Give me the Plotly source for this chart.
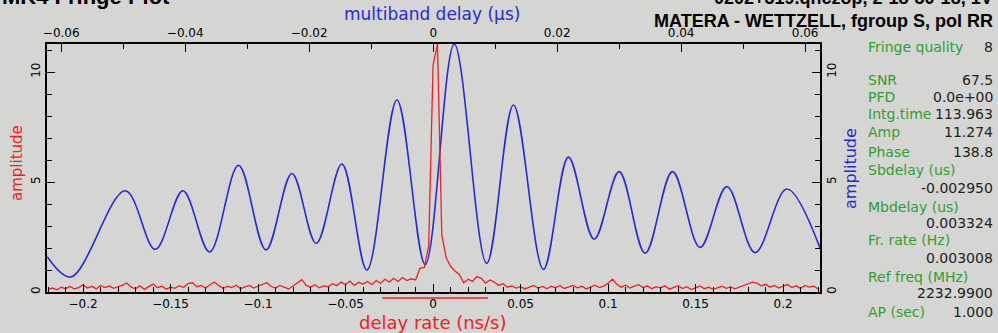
import numpy as np
import plotly.graph_objects as go

# ---------------- data ----------------
# multiband delay function (blue): delay in microseconds, amplitude
mbd_delay = [-0.06226, -0.05844, -0.04968, -0.04484, -0.04037, -0.03608, -0.03140,
             -0.02698, -0.02279, -0.01887, -0.01473, -0.01069, -0.00585, -0.00129,
             0.00340, 0.00863, 0.01295, 0.01779, 0.02182, 0.02597, 0.03000,
             0.03419, 0.03860, 0.04306, 0.04737, 0.05194, 0.05705, 0.06242]
mbd_amp = [1.60, 0.68, 4.60, 1.94, 4.60, 1.82, 5.76,
           1.91, 5.39, 2.21, 5.82, 1.00, 8.73, 1.25,
           11.27, 1.30, 8.50, 1.03, 6.13, 2.40, 5.47,
           1.76, 5.47, 2.03, 4.79, 1.79, 4.68, 1.98]

# delay-rate function (red): regular grid in ns/s
rate_start = -0.22
rate_step = 0.0025
dr_amp = [0.12, 0.18, 0.10, 0.22, 0.15, 0.25, 0.14, 0.20, 0.33, 0.18,
          0.26, 0.14, 0.30, 0.20, 0.27, 0.17, 0.25, 0.30, 0.41, 0.22,
          0.15, 0.28, 0.12, 0.24, 0.36, 0.20, 0.26, 0.13, 0.22, 0.17,
          0.29, 0.20, 0.38, 0.42, 0.24, 0.30, 0.18, 0.33, 0.45, 0.30,
          0.16, 0.26, 0.20, 0.31, 0.15, 0.23, 0.30, 0.18, 0.27, 0.34,
          0.42, 0.25, 0.18, 0.30, 0.21, 0.14, 0.27, 0.40, 0.56, 0.30,
          0.22, 0.33, 0.19, 0.28, 0.24, 0.38, 0.29, 0.45, 0.34, 0.50,
          0.30, 0.44, 0.36, 0.48, 0.33, 0.52, 0.40, 0.58, 0.45, 0.62,
          0.48, 0.66, 0.52, 0.60, 0.55, 1.08, 1.12, 2.10, 10.30, 11.27,
          2.60, 1.55, 1.17, 0.95, 0.80, 0.42, 0.58, 0.48, 0.70, 0.62,
          0.40, 0.55, 0.45, 0.30, 0.38, 0.22, 0.28, 0.18, 0.24, 0.14,
          0.22, 0.30, 0.18, 0.25, 0.15, 0.26, 0.20, 0.29, 0.16, 0.23,
          0.30, 0.19, 0.26, 0.14, 0.22, 0.31, 0.20, 0.27, 0.40, 0.58,
          0.35, 0.22, 0.31, 0.18, 0.27, 0.33, 0.20, 0.28, 0.15, 0.24,
          0.19, 0.28, 0.13, 0.21, 0.29, 0.16, 0.24, 0.11, 0.20, 0.27,
          0.15, 0.22, 0.12, 0.19, 0.26, 0.17, 0.23, 0.14, 0.21, 0.30,
          0.38, 0.45, 0.40, 0.28, 0.35, 0.22, 0.30, 0.18, 0.27, 0.34,
          0.20, 0.28, 0.16, 0.30, 0.22, 0.27, 0.14]
dr_rate = [round(rate_start + rate_step * i, 5) for i in range(len(dr_amp))]

# search window on the delay-rate axis (ns/s)
rate_window = [-0.0291, 0.0314]

# axis ranges / ticks
rate_range = [-0.2206, 0.2211]
mbd_range = [-0.0623, 0.0624]
amp_range = [0, 11.274]
rate_ticks = [-0.2, -0.15, -0.1, -0.05, 0, 0.05, 0.1, 0.15, 0.2]
rate_ticktext = ["\u22120.2", "\u22120.15", "\u22120.1", "\u22120.05", "0", "0.05", "0.1", "0.15", "0.2"]
mbd_ticks = [-0.06, -0.04, -0.02, 0, 0.02, 0.04, 0.06]
mbd_ticktext = ["\u22120.06", "\u22120.04", "\u22120.02", "0", "0.02", "0.04", "0.06"]
amp_ticks = [0, 5, 10]

# info panel
panel_rows = [
    ("Fringe quality", "8"),
    ("SNR", "67.5"),
    ("PFD", "0.0e+00"),
    ("Intg.time", "113.963"),
    ("Amp", "11.274"),
    ("Phase", "138.8"),
    ("Sbdelay (us)", ""),
    ("", "-0.002950"),
    ("Mbdelay (us)", ""),
    ("", "0.003324"),
    ("Fr. rate (Hz)", ""),
    ("", "0.003008"),
    ("Ref freq (MHz)", ""),
    ("", "2232.9900"),
    ("AP (sec)", "1.000"),
]
panel_row_y = [47, 80, 97, 114, 132, 152, 170, 188, 207, 223, 240, 258, 277, 293, 312]

title_left = "MK4 Fringe Plot"
title_right1 = "0202+319.qnczop, 2-18-30-18, 1V"
title_right2 = "MATERA - WETTZELL, fgroup S, pol RR"

# ---------------- layout helpers ----------------
W, H = 998, 333
L, R, T, B = 47, 820, 44, 292
BG = "#d5d5d3"
BLUE = "#2a2ad2"
RED = "#f02020"
GREEN = "#2f9f2f"
FONT = "DejaVu Sans"


def pxx(px):
    return (px - L) / (R - L)


def pxy(py):
    return (B - py) / (B - T)


fig = go.Figure()

fig.add_trace(go.Scatter(
    x=mbd_delay, y=mbd_amp, mode="lines", xaxis="x", yaxis="y",
    line=dict(color=BLUE, width=1.6, shape="spline", smoothing=1.0),
    hoverinfo="skip", showlegend=False))

fig.add_trace(go.Scatter(
    x=dr_rate, y=dr_amp, mode="lines", xaxis="x2", yaxis="y2",
    line=dict(color=RED, width=1.3),
    hoverinfo="skip", showlegend=False))

axis_common = dict(showline=True, linecolor="black", linewidth=1.5, ticks="inside",
                   ticklen=8, tickwidth=1.2, tickcolor="black", showgrid=False,
                   zeroline=False, tickfont=dict(family=FONT, size=12, color="black"))

fig.update_layout(
    width=W, height=H,
    margin=dict(l=L, r=W - R, t=T, b=H - B),
    paper_bgcolor=BG, plot_bgcolor=BG,
    xaxis=dict(range=mbd_range, side="top", tickmode="array", tickvals=mbd_ticks,
               ticktext=mbd_ticktext,
               minor=dict(ticks="inside", ticklen=5, dtick=0.01, tick0=0, tickcolor="black"),
               **axis_common),
    yaxis=dict(range=amp_range, side="right", tickmode="array", tickvals=amp_ticks,
               ticktext=[str(v) for v in amp_ticks], tickangle=-90,
               minor=dict(ticks="inside", ticklen=5, dtick=1, tick0=0, tickcolor="black"),
               **axis_common),
    xaxis2=dict(range=rate_range, side="bottom", overlaying="x", tickmode="array",
                tickvals=rate_ticks, ticktext=rate_ticktext,
                minor=dict(ticks="inside", ticklen=5, dtick=0.01, tick0=0, tickcolor="black"),
                **axis_common),
    yaxis2=dict(range=amp_range, side="left", overlaying="y", tickmode="array",
                tickvals=amp_ticks, ticktext=[str(v) for v in amp_ticks], tickangle=-90,
                minor=dict(ticks="inside", ticklen=5, dtick=1, tick0=0, tickcolor="black"),
                **axis_common),
)

# search window marker below the rate axis
fig.add_shape(type="line", xref="x2", yref="paper",
              x0=rate_window[0], x1=rate_window[1], y0=pxy(298), y1=pxy(298),
              line=dict(color=RED, width=1.5))

ann = []
ann.append(dict(text=title_left, x=pxx(172), y=pxy(11), xanchor="right", yanchor="bottom",
                font=dict(family="Liberation Sans", size=22, color="black", weight="bold")))
ann.append(dict(text=title_right1, x=pxx(995), y=pxy(10), xanchor="right", yanchor="bottom",
                font=dict(family="Liberation Sans", size=18, color="black", weight="bold")))
ann.append(dict(text=title_right2, x=pxx(995), y=pxy(20.5), xanchor="right", yanchor="middle",
                font=dict(family="Liberation Sans", size=18, color="black", weight="bold")))
ann.append(dict(text="multiband delay (\u00b5s)", x=pxx(432), y=pxy(14), xanchor="center",
                yanchor="middle", font=dict(family=FONT, size=17, color=BLUE)))
ann.append(dict(text="delay rate (ns/s)", x=pxx(432), y=pxy(322), xanchor="center",
                yanchor="middle", font=dict(family=FONT, size=18, color=RED)))
ann.append(dict(text="amplitude", x=pxx(17), y=pxy(163), xanchor="center", yanchor="middle",
                textangle=-90, font=dict(family=FONT, size=15, color=RED)))
ann.append(dict(text="amplitude", x=pxx(850), y=pxy(169), xanchor="center", yanchor="middle",
                textangle=-90, font=dict(family=FONT, size=16, color=BLUE)))

for (lab, val), py in zip(panel_rows, panel_row_y):
    if lab:
        ann.append(dict(text=lab, x=pxx(866), y=pxy(py), xanchor="left", yanchor="middle",
                        font=dict(family=FONT, size=14, color=GREEN)))
    if val:
        ann.append(dict(text=val, x=pxx(995), y=pxy(py), xanchor="right", yanchor="middle",
                        font=dict(family=FONT, size=14, color="#222222")))

for a in ann:
    a.update(xref="paper", yref="paper", showarrow=False)
fig.update_layout(annotations=ann)

fig.write_html("out.html")
